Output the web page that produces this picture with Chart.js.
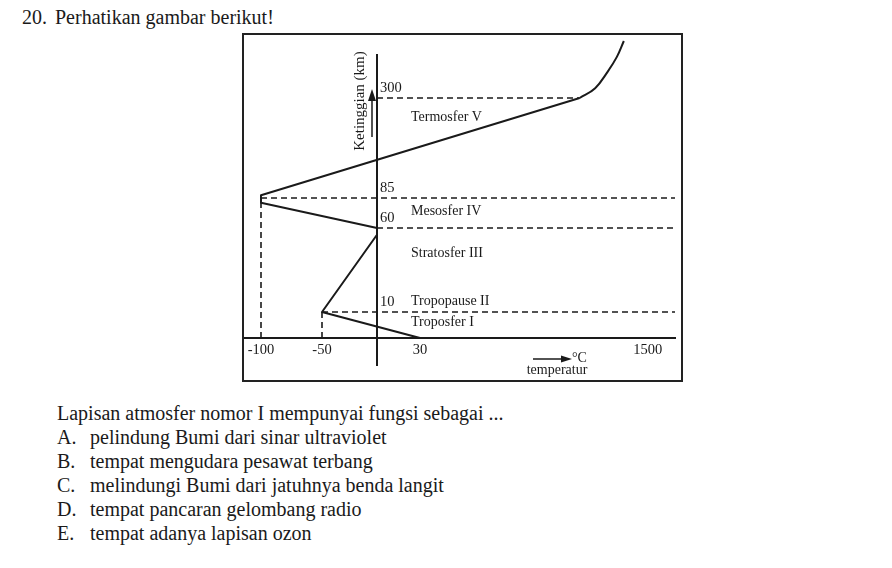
<!DOCTYPE html>
<html><head><meta charset="utf-8">
<script src="https://cdn.jsdelivr.net/npm/chart.js@4/dist/chart.umd.min.js"></script>
<style>
html,body{margin:0;padding:0;background:#fff;}
body{width:892px;height:568px;position:relative;overflow:hidden;font-family:"Liberation Serif","Times New Roman",serif;color:#1a1a1a;}
.t{position:absolute;font-size:20px;line-height:24px;white-space:nowrap;}
#wrap{position:absolute;left:242px;top:33px;width:442px;height:350px;}
#frame{position:absolute;left:242px;top:33px;width:437px;height:345px;border:2px solid #222;pointer-events:none;}
</style></head>
<body>
<div class="t" style="left:22px;top:5px">20.</div>
<div class="t" style="left:55px;top:5px">Perhatikan gambar berikut!</div>
<div id="wrap"><canvas id="c" width="442" height="350"></canvas></div>
<div id="frame"></div>
<div class="t" style="left:57px;top:401px">Lapisan atmosfer nomor I mempunyai fungsi sebagai ...</div>
<div class="t" style="left:57px;top:425px">A.</div><div class="t" style="left:90px;top:425px">pelindung Bumi dari sinar ultraviolet</div>
<div class="t" style="left:57px;top:449px">B.</div><div class="t" style="left:90px;top:449px">tempat mengudara pesawat terbang</div>
<div class="t" style="left:57px;top:473px">C.</div><div class="t" style="left:90px;top:473px">melindungi Bumi dari jatuhnya benda langit</div>
<div class="t" style="left:57px;top:497px">D.</div><div class="t" style="left:90px;top:497px">tempat pancaran gelombang radio</div>
<div class="t" style="left:57px;top:521px">E.</div><div class="t" style="left:90px;top:521px">tempat adanya lapisan ozon</div>
<script>
// ---- data ----
const tickTemps = [-100, -50, 30, 1500];           // °C labels on the temperature axis
const tickAlts = [10, 60, 85, 300];                // km labels on the height axis
const profileTemp = [30, -50, 0, 0, -100, -100, 1060];   // temperature profile (°C)
const profileAlt  = [0, 10, 56, 60, 81, 91, 300];        // matching heights (km)
const thermoTemp = [1060, 1160, 1240, 1300, 1345]; // upper thermosphere curve (°C)
const thermoAlt  = [300, 321, 356, 388, 422];      // matching heights (km)
const guideAlt   = [10, 60, 85, 300];              // dashed boundary heights
const guideFrom  = [-50, 0, -100, 0];              // dashed lines start temp
const guideTo    = [1675, 1675, 1675, 1060];       // dashed lines end temp
const dropTemp   = [-100, -50];                    // vertical dashed drops
const dropTop    = [83, 10];
const layerNames = ['Troposfer I', 'Tropopause II', 'Stratosfer III', 'Mesosfer IV', 'Termosfer V'];
const layerAlt   = [6, 16.5, 45, 74, 259];

// ---- schematic (non-linear) axis definition ----
const X_MIN = -115, X_MAX = 1675, Y_MIN = -10.4, Y_MAX = 392;
const xKnotVals = [-115, -100, -50, 0, 30, 1675];
const xKnotPix  = [243, 261, 322, 377, 420, 675];
const yKnotVals = [-10.4, 0, 10, 60, 85, 300, 392];
const yKnotPix  = [365, 338, 312, 228, 198, 98, 55];
const KNOTS = {
  x: {values: xKnotVals, fracs: xKnotPix.map(p => (p - xKnotPix[0]) / (xKnotPix[xKnotPix.length-1] - xKnotPix[0]))},
  y: {values: yKnotVals, fracs: yKnotPix.map(p => (yKnotPix[0] - p) / (yKnotPix[0] - yKnotPix[yKnotPix.length-1]))}
};
function interp(xs, ys, v) {
  let i = 0;
  while (i < xs.length - 2 && v > xs[i+1]) i++;
  const t = (v - xs[i]) / (xs[i+1] - xs[i]);
  return ys[i] + t * (ys[i+1] - ys[i]);
}
class PiecewiseScale extends Chart.LinearScale {
  getPixelForValue(value) {
    const k = KNOTS[this.axis];
    return this.getPixelForDecimal(interp(k.values, k.fracs, value));
  }
  getValueForPixel(pixel) {
    const k = KNOTS[this.axis];
    return interp(k.fracs, k.values, this.getDecimalForPixel(pixel));
  }
}
PiecewiseScale.id = 'piecewise';
PiecewiseScale.defaults = Chart.LinearScale.defaults;
Chart.register(PiecewiseScale);

const INK = '#1a1a1a';
const FONT = '"Liberation Serif", "Times New Roman", serif';
const pts = (xs, ys) => xs.map((x, i) => ({x, y: ys[i]}));
const datasets = [];
datasets.push({data: pts(profileTemp, profileAlt), borderColor: INK, borderWidth: 2, tension: 0, borderJoinStyle: 'round'});
datasets.push({data: pts(thermoTemp, thermoAlt), borderColor: INK, borderWidth: 2, tension: 0.4});
guideAlt.forEach((a, i) => datasets.push({data: [{x: guideFrom[i], y: a}, {x: guideTo[i], y: a}], borderColor: INK, borderWidth: 1.6, borderDash: [6, 4]}));
dropTemp.forEach((t, i) => datasets.push({data: [{x: t, y: 0}, {x: t, y: dropTop[i]}], borderColor: INK, borderWidth: 1.6, borderDash: [6, 4]}));
datasets.forEach(d => { d.pointRadius = 0; d.fill = false; d.clip = false; });

const annot = {
  id: 'annot',
  afterDraw(chart) {
    const {ctx, scales: {x, y}} = chart;
    const ax = x.getPixelForValue(0);
    ctx.save();
    ctx.fillStyle = INK; ctx.strokeStyle = INK;
    ctx.font = '14.5px ' + FONT;
    ctx.textBaseline = 'middle'; ctx.textAlign = 'left';
    tickAlts.forEach(v => ctx.fillText(String(v), ax + 3, y.getPixelForValue(v) - 10));
    ctx.font = '14px ' + FONT;
    layerNames.forEach((n, i) => ctx.fillText(n, ax + 34, y.getPixelForValue(layerAlt[i])));
    // height axis title + arrow
    ctx.save();
    ctx.translate(ax - 18, 68);
    ctx.rotate(-Math.PI / 2);
    ctx.textAlign = 'center';
    ctx.font = '15px ' + FONT;
    ctx.fillText('Ketinggian (km)', 0, 1);
    ctx.restore();
    ctx.lineWidth = 1.5;
    ctx.beginPath(); ctx.moveTo(ax - 5, 104); ctx.lineTo(ax - 5, 64); ctx.stroke();
    ctx.beginPath(); ctx.moveTo(ax - 5, 56); ctx.lineTo(ax - 9, 68); ctx.lineTo(ax - 1, 68); ctx.closePath(); ctx.fill();
    // temperature arrow
    const ty = 326;
    ctx.beginPath(); ctx.moveTo(291, ty); ctx.lineTo(322, ty); ctx.stroke();
    ctx.beginPath(); ctx.moveTo(330, ty); ctx.lineTo(319, ty - 3.5); ctx.lineTo(319, ty + 3.5); ctx.closePath(); ctx.fill();
    ctx.font = '14px ' + FONT;
    ctx.fillText('°C', 330, ty - 1);
    ctx.textAlign = 'center';
    ctx.fillText('temperatur', 315, 337);
    ctx.restore();
  }
};

new Chart(document.getElementById('c'), {
  type: 'line',
  data: {datasets},
  options: {
    responsive: false, animation: false, events: [],
    layout: {padding: {left: 1, top: 22, right: 9, bottom: 18}},
    plugins: {legend: {display: false}, tooltip: {enabled: false}},
    scales: {
      x: {
        type: 'piecewise', min: X_MIN, max: X_MAX, position: {y: 0},
        grid: {display: false, drawTicks: false},
        border: {display: true, color: INK, width: 2},
        afterBuildTicks: s => { s.ticks = tickTemps.map(v => ({value: v})); },
        ticks: {autoSkip: false, maxRotation: 0, padding: 3, color: INK, font: {family: FONT, size: 14.5}, callback: v => String(v)}
      },
      y: {
        type: 'piecewise', min: Y_MIN, max: Y_MAX, position: {x: 0},
        grid: {display: false, drawTicks: false},
        border: {display: true, color: INK, width: 2},
        afterBuildTicks: s => { s.ticks = tickAlts.map(v => ({value: v})); },
        ticks: {display: false}
      }
    }
  },
  plugins: [annot]
});
</script>
</body></html>
